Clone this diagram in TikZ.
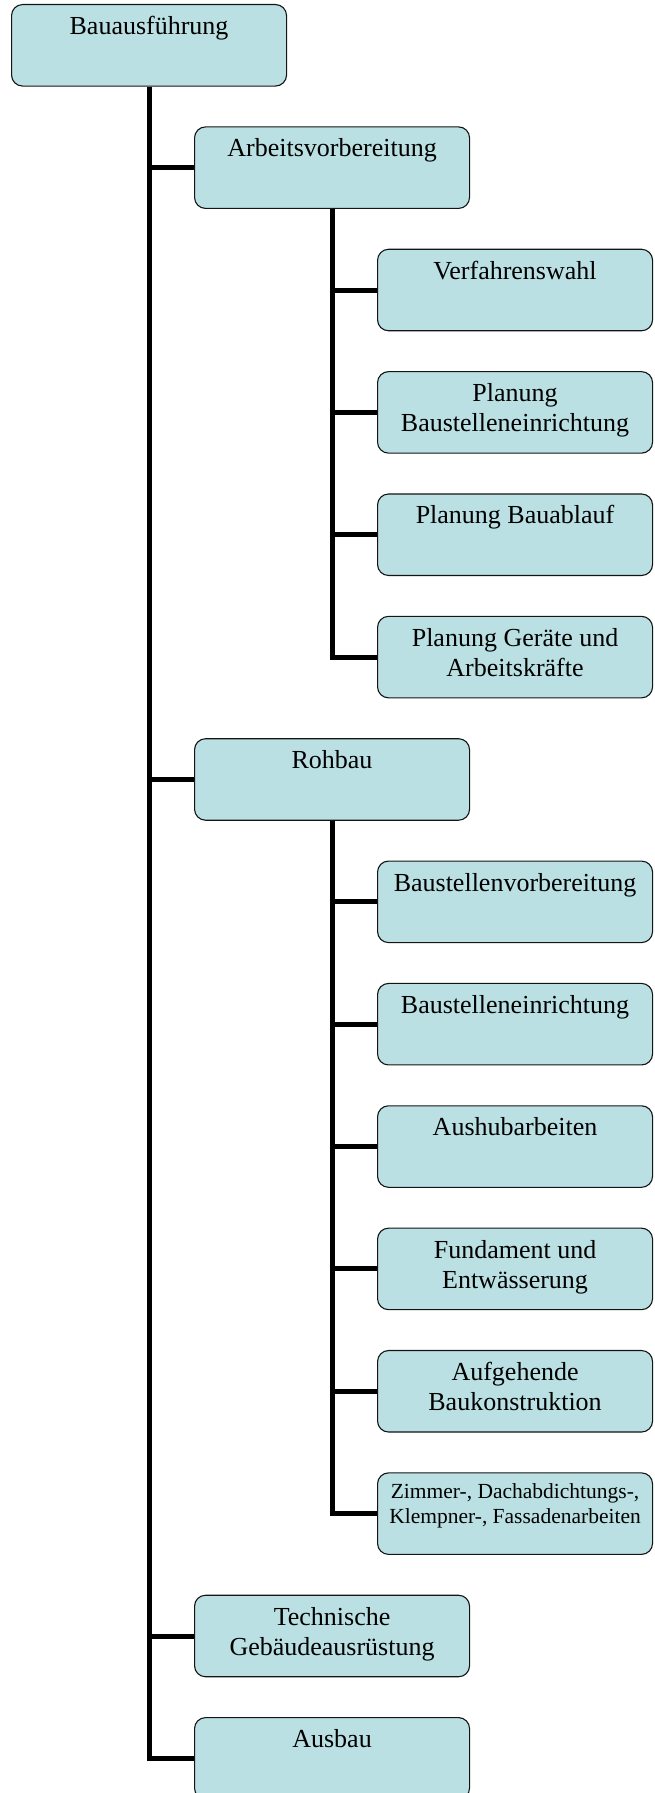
\documentclass[tikz,border=0pt]{standalone}
\usepackage{fontspec}
\setmainfont{Liberation Serif}
\definecolor{boxfill}{RGB}{186,224,227}
\definecolor{boxline}{RGB}{20,20,20}
% box text: font, height of the first line strut, text
\newcommand\boxlabel[3]{\parbox[t][81.5pt][t]{275pt}{#1\centering\rule{0pt}{#2}#3}}
\tikzset{
  chartbox/.style={draw=boxline, fill=boxfill, line width=1.1pt,
    rounded corners=11pt, inner sep=0pt, anchor=north west,
    font=\fontsize{26}{30}\selectfont},
  link/.style={line width=5pt, line join=miter, draw=black}
}
\begin{document}
\begin{tikzpicture}[x=1pt,y=-1pt]
\useasboundingbox (0,0) rectangle (655,1793);
\def\pitch{122.36}
% level 0 and level 1
\node[chartbox] (b0)  at (11,  4+0*\pitch)  {\boxlabel{}{30pt}{Bauausführung}};
\node[chartbox] (b1)  at (194, 4+1*\pitch)  {\boxlabel{}{30pt}{Arbeitsvorbereitung}};
% Arbeitsvorbereitung
\node[chartbox] (b2)  at (377, 4+2*\pitch)  {\boxlabel{}{30pt}{Verfahrenswahl}};
\node[chartbox] (b3)  at (377, 4+3*\pitch)  {\boxlabel{}{30pt}{Planung\\Baustelleneinrichtung}};
\node[chartbox] (b4)  at (377, 4+4*\pitch)  {\boxlabel{}{30pt}{Planung Bauablauf}};
\node[chartbox] (b5)  at (377, 4+5*\pitch)  {\boxlabel{}{30pt}{Planung Geräte und\\Arbeitskräfte}};
% Rohbau
\node[chartbox] (b6)  at (194, 4+6*\pitch)  {\boxlabel{}{30pt}{Rohbau}};
\node[chartbox] (b7)  at (377, 4+7*\pitch)  {\boxlabel{}{30pt}{Baustellenvorbereitung}};
\node[chartbox] (b8)  at (377, 4+8*\pitch)  {\boxlabel{}{30pt}{Baustelleneinrichtung}};
\node[chartbox] (b9)  at (377, 4+9*\pitch)  {\boxlabel{}{30pt}{Aushubarbeiten}};
\node[chartbox] (b10) at (377, 4+10*\pitch) {\boxlabel{}{30pt}{Fundament und\\Entwässerung}};
\node[chartbox] (b11) at (377, 4+11*\pitch) {\boxlabel{}{30pt}{Aufgehende\\Baukonstruktion}};
\node[chartbox] (b12) at (377, 4+12*\pitch) {\boxlabel{\fontsize{21.5}{24.7}\selectfont}{26pt}{Zimmer-, Dachabdichtungs-,\\Klempner-, Fassadenarbeiten}};
% remaining level 1
\node[chartbox] (b13) at (194, 4+13*\pitch) {\boxlabel{}{30pt}{Technische\\Gebäudeausrüstung}};
\node[chartbox] (b14) at (194, 4+14*\pitch) {\boxlabel{}{30pt}{Ausbau}};
% connectors
\foreach \c in {b1,b6,b13,b14} \draw[link] (b0.south) |- (\c.west);
\foreach \c in {b2,b3,b4,b5} \draw[link] (b1.south) |- (\c.west);
\foreach \c in {b7,b8,b9,b10,b11,b12} \draw[link] (b6.south) |- (\c.west);
\end{tikzpicture}
\end{document}
